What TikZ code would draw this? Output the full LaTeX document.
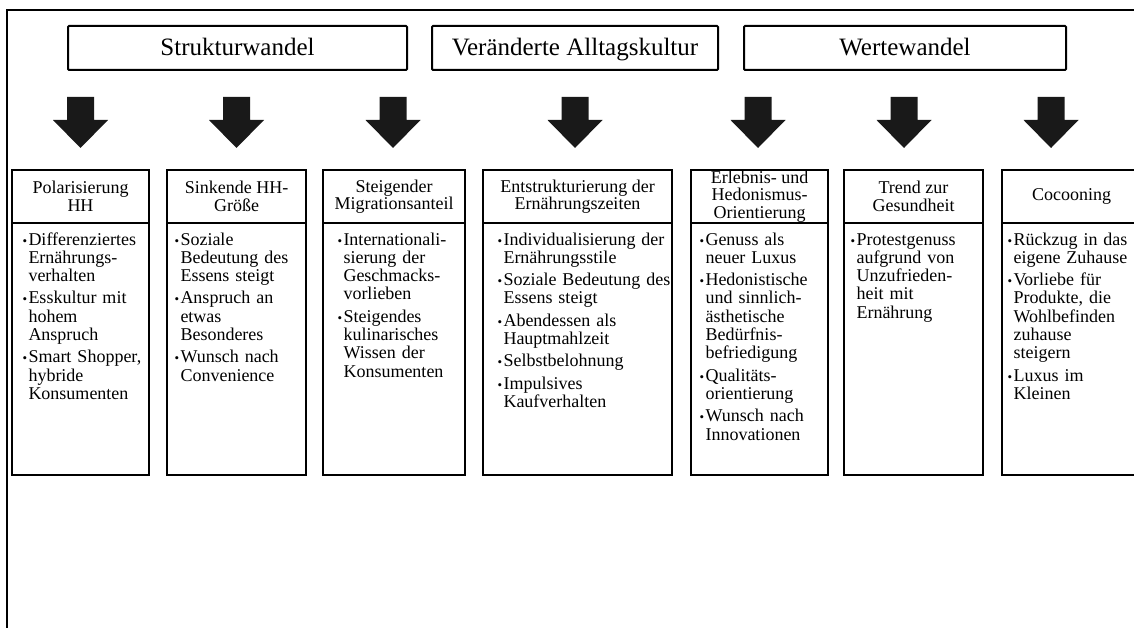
\documentclass[tikz,border=0pt]{standalone}
\usepackage{fontspec}
\setmainfont{Liberation Serif}
\usetikzlibrary{positioning}
\newcommand{\itm}[1]{\hangindent=7pt\hangafter=1\noindent\makebox[7pt][c]{\fontsize{13}{13}\selectfont\textbullet}#1\par}
\newcommand{\nl}{\newline}

\begin{document}
\begin{tikzpicture}[x=1pt,y=-1pt, every node/.style={align=center,outer sep=0pt},
  topbox/.style={draw,line width=2pt,rounded corners=1pt,minimum height=44,text height=19pt,text depth=3pt,font=\fontsize{25}{28}\selectfont},
  colhead/.style={draw,line width=2.5pt,minimum height=53,font=\fontsize{18}{17.5}\selectfont},
  colbody/.style={draw,line width=2.5pt,minimum height=252},
  itemtext/.style={anchor=base west,inner sep=0pt,text width=200pt,align=left,font=\fontsize{18}{18.3}\selectfont,execute at begin node={\setlength{\parskip}{4pt}}}]
\useasboundingbox (0,0) rectangle (1134,628);
\draw[line width=2pt] (7,640) -- (7,10) -- (1140,10);
% influences
\node[topbox,minimum width=339] (struktur) at (237.5,48) {Strukturwandel};
\node[topbox,minimum width=286] (alltag) at (575,48) {Veränderte Alltagskultur};
\node[topbox,minimum width=322] (werte) at (905,48) {Wertewandel};
% block arrows
\foreach \x in {80.5,236.5,393,575,758,904,1051}
  \fill[black!90] (\x-13.5,97) -- (\x+13.5,97) -- (\x+13.5,120) -- (\x+27.5,120) -- (\x,148) -- (\x-27.5,120) -- (\x-13.5,120) -- cycle;
% trend columns
\node[colhead,minimum width=137,anchor=north] (h1) at (80.5,170) {Polarisierung\\HH};
\node[colbody,minimum width=137,below=0pt of h1] (b1) {};
\node[colhead,minimum width=139,anchor=north] (h2) at (236.5,170) {Sinkende HH-\\Größe};
\node[colbody,minimum width=139,below=0pt of h2] (b2) {};
\node[colhead,minimum width=142,anchor=north] (h3) at (394,170) {Steigender\\Migrationsanteil};
\node[colbody,minimum width=142,below=0pt of h3] (b3) {};
\node[colhead,minimum width=189,anchor=north] (h4) at (577.5,170) {Entstrukturierung der\\Ernährungszeiten};
\node[colbody,minimum width=189,below=0pt of h4] (b4) {};
\node[colhead,minimum width=137,inner ysep=0pt,anchor=north] (h5) at (759.5,170) {Erlebnis- und\\Hedonismus-\\Orientierung};
\node[colbody,minimum width=137,below=0pt of h5] (b5) {};
\node[colhead,minimum width=139,anchor=north] (h6) at (913.5,170) {Trend zur\\Gesundheit};
\node[colbody,minimum width=139,below=0pt of h6] (b6) {};
\node[colhead,minimum width=139,anchor=north] (h7) at (1071.5,170) {Cocooning};
\node[colbody,minimum width=139,below=0pt of h7] (b7) {};
% bullet texts
\node[itemtext] (t1) at (21.5,245) {\itm{Differenziertes\nl Ernährungs-\nl verhalten}
  \itm{Esskultur mit\nl hohem\nl Anspruch}
  \itm{Smart Shopper,\nl hybride\nl Konsumenten}};
\node[itemtext] (t2) at (173.5,245) {\itm{Soziale\nl Bedeutung des\nl Essens steigt}
  \itm{Anspruch an\nl etwas\nl Besonderes}
  \itm{Wunsch nach\nl Convenience}};
\node[itemtext] (t3) at (336.5,245) {\itm{Internationali-\nl sierung der\nl Geschmacks-\nl vorlieben}
  \itm{Steigendes\nl kulinarisches\nl Wissen der\nl Konsumenten}};
\node[itemtext] (t4) at (496.5,245) {\itm{Individualisierung der\nl Ernährungsstile}
  \itm{Soziale Bedeutung des\nl Essens steigt}
  \itm{Abendessen als\nl Hauptmahlzeit}
  \itm{Selbstbelohnung}
  \itm{Impulsives\nl Kaufverhalten}};
\node[itemtext] (t5) at (698.5,245) {\itm{Genuss als\nl neuer Luxus}
  \itm{Hedonistische\nl und sinnlich-\nl ästhetische\nl Bedürfnis-\nl befriedigung}
  \itm{Qualitäts-\nl orientierung}
  \itm{Wunsch nach\nl Innovationen}};
\node[itemtext] (t6) at (849.5,245) {\itm{Protestgenuss\nl aufgrund von\nl Unzufrieden-\nl heit mit\nl Ernährung}};
\node[itemtext] (t7) at (1006.5,245) {\itm{Rückzug in das\nl eigene Zuhause}
  \itm{Vorliebe für\nl Produkte, die\nl Wohlbefinden\nl zuhause\nl steigern}
  \itm{Luxus im\nl Kleinen}};
\end{tikzpicture}
\end{document}
